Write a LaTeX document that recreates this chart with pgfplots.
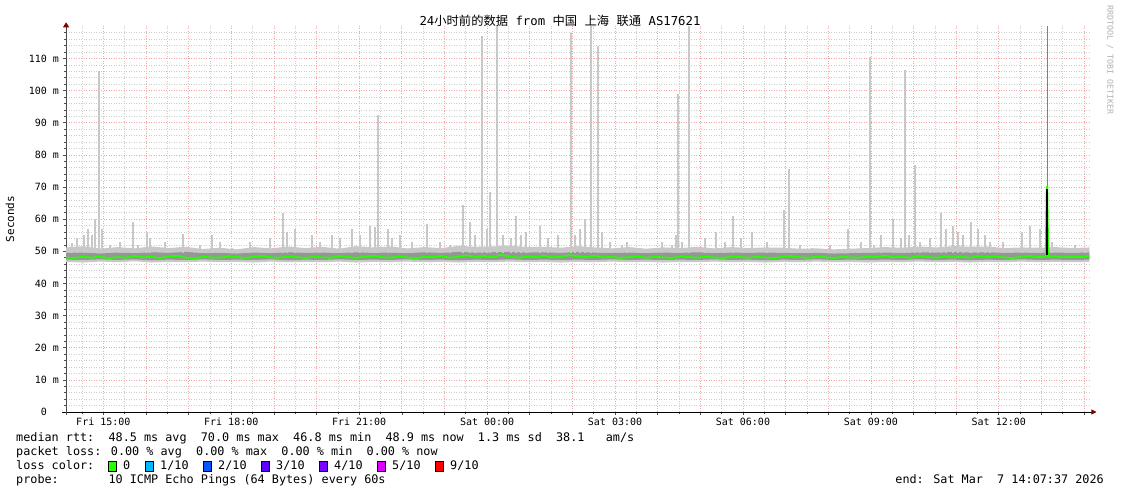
\documentclass[border=0pt]{standalone}
\usepackage{fontspec}
\setmainfont{DejaVu Sans Mono}
\newfontfamily\cjk{Noto Sans CJK SC}
\usepackage{pgfplots}
\pgfplotsset{compat=1.18}
\usepackage{pgfplotstable}
\usepgfplotslibrary{fillbetween}
\usetikzlibrary{arrows.meta}

\definecolor{mgrid}{RGB}{245,165,165}
\definecolor{sgrid}{RGB}{205,205,205}
\definecolor{smokeL}{RGB}{200,200,200}
\definecolor{smokeD}{RGB}{150,150,150}
\definecolor{loss0}{RGB}{38,255,0}
\definecolor{loss1}{RGB}{0,184,255}
\definecolor{loss2}{RGB}{0,89,255}
\definecolor{loss3}{RGB}{94,0,255}
\definecolor{loss4}{RGB}{126,0,255}
\definecolor{loss5}{RGB}{221,0,255}
\definecolor{loss9}{RGB}{255,0,0}
\definecolor{arrowred}{RGB}{128,0,0}

% smoke envelopes (ms), time in hours (Fri 14:07:37 = 14.127)
\pgfplotstableread{
t lo dlo dhi hi
14.13 46.7 47.4 49.5 51.2
14.53 46.5 47.3 49.6 51.6
14.93 46.8 47.5 49.3 50.8
15.33 46.6 47.3 49.6 51.3
15.73 46.9 47.5 49.4 50.9
16.13 46.5 47.2 49.7 51.5
16.53 46.7 47.4 49.5 51.0
16.93 46.6 47.3 49.8 51.4
17.33 46.8 47.5 49.4 50.7
17.73 46.6 47.3 49.5 51.1
18.13 46.7 47.4 49.3 50.6
18.53 46.5 47.3 49.6 51.3
18.93 46.8 47.5 49.4 50.9
19.33 46.6 47.2 49.7 51.5
19.73 46.7 47.4 49.5 51.0
20.13 46.6 47.3 49.6 51.4
20.53 46.8 47.5 49.4 50.8
20.93 46.5 47.3 49.7 51.6
21.33 46.7 47.4 49.5 51.2
21.73 46.6 47.3 49.6 51.5
22.13 46.8 47.5 49.4 50.9
22.53 46.6 47.3 49.7 51.3
22.93 46.7 47.4 49.5 51.0
23.33 46.5 47.2 49.8 51.7
23.73 46.7 47.4 49.6 51.4
24.13 46.6 47.3 49.7 51.5
24.53 46.8 47.5 49.8 51.8
24.93 46.6 47.3 49.6 51.3
25.33 46.7 47.4 49.7 51.4
25.73 46.5 47.3 49.5 51.1
26.13 46.7 47.4 49.8 51.6
26.53 46.6 47.3 49.6 51.2
26.93 46.8 47.5 49.5 50.9
27.33 46.6 47.3 49.6 51.3
27.73 46.7 47.4 49.4 50.8
28.13 46.5 47.3 49.6 51.2
28.53 46.7 47.4 49.5 51.0
28.93 46.6 47.3 49.7 51.4
29.33 46.8 47.5 49.4 50.9
29.73 46.6 47.3 49.6 51.3
30.13 46.7 47.4 49.5 51.0
30.53 46.5 47.2 49.6 51.2
30.93 46.7 47.4 49.5 51.1
31.33 46.6 47.3 49.4 50.8
31.73 46.8 47.5 49.5 50.9
32.13 46.6 47.3 49.3 50.6
32.53 46.7 47.4 49.4 50.8
32.93 46.5 47.3 49.5 51.0
33.33 46.7 47.4 49.6 51.3
33.73 46.6 47.3 49.5 51.1
34.13 46.8 47.5 49.7 51.5
34.53 46.6 47.3 49.6 51.2
34.93 46.7 47.4 49.8 51.6
35.33 46.5 47.2 49.6 51.4
35.73 46.7 47.4 49.7 51.5
36.13 46.6 47.3 49.5 51.0
36.53 46.8 47.5 49.6 51.2
36.93 46.6 47.3 49.5 51.1
37.33 46.7 47.4 49.6 51.3
37.73 46.6 47.3 49.5 51.0
38.13 46.7 47.4 49.6 51.2
}\band

% median rtt (ms)
\pgfplotstableread{
t med
14.13 48.1
14.33 47.9
14.53 48.3
14.73 48.0
14.93 48.4
15.13 47.8
15.33 48.2
15.53 48.0
15.73 48.5
15.93 48.1
16.13 48.3
16.33 47.9
16.53 48.4
16.73 48.6
16.93 48.0
17.13 47.8
17.33 48.3
17.53 48.1
17.73 48.0
17.93 48.4
18.13 48.2
18.33 47.9
18.53 48.3
18.73 48.5
18.93 48.1
19.13 48.0
19.33 48.4
19.53 48.2
19.73 47.9
19.93 48.3
20.13 48.1
20.33 48.0
20.53 48.5
20.73 48.2
20.93 47.9
21.13 48.3
21.33 48.6
21.53 48.2
21.73 48.0
21.93 48.4
22.13 48.1
22.33 47.8
22.53 48.3
22.73 48.2
22.93 48.5
23.13 48.0
23.33 48.3
23.53 48.7
23.73 48.2
23.93 48.5
24.13 48.1
24.33 48.9
24.53 48.3
24.73 48.0
24.93 48.4
25.13 48.2
25.33 48.6
25.53 48.1
25.73 48.3
25.93 48.8
26.13 48.4
26.33 48.2
26.53 48.6
26.73 48.1
26.93 48.3
27.13 47.9
27.33 48.2
27.53 48.4
27.73 48.0
27.93 48.3
28.13 48.1
28.33 47.9
28.53 48.4
28.73 48.2
28.93 48.0
29.13 48.3
29.33 48.1
29.53 47.9
29.73 48.4
29.93 48.2
30.13 48.0
30.33 48.3
30.53 48.1
30.73 47.9
30.93 48.3
31.13 48.5
31.33 48.1
31.53 48.0
31.73 48.3
31.93 48.2
32.13 47.9
32.33 48.3
32.53 48.1
32.73 48.0
32.93 48.4
33.13 48.2
33.33 48.6
33.53 48.1
33.73 48.3
33.93 48.0
34.13 48.5
34.33 48.2
34.53 48.0
34.73 48.4
34.93 48.1
35.13 48.3
35.33 48.0
35.53 48.5
35.73 48.2
35.93 48.4
36.13 48.1
36.33 47.9
36.53 48.3
36.73 48.5
36.93 48.2
37.10 48.3
37.125 70.0
37.137 70.0
37.16 48.4
37.33 48.4
37.53 48.1
37.73 48.3
37.93 48.2
38.13 48.6
}\median

\begin{document}
\begin{tikzpicture}[x=1pt,y=1pt]
\begin{axis}[
  at={(66.1pt,82pt)}, anchor=south west,
  scale only axis, width=1023.4pt, height=385.7pt,
  xmin=14.127, xmax=38.127, ymin=0, ymax=120,
  xtick={15,16,...,38},
  xticklabels={Fri 15:00,,,Fri 18:00,,,Fri 21:00,,,Sat 00:00,,,Sat 03:00,,,Sat 06:00,,,Sat 09:00,,,Sat 12:00,,,},
  minor xtick={14.5,15.5,...,37.5},
  ytick={0,10,...,110},
  yticklabels={0\phantom{ m},10 m,20 m,30 m,40 m,50 m,60 m,70 m,80 m,90 m,100 m,110 m},
  minor ytick={2,4,...,118},
  grid=both,
  major grid style={mgrid, line width=0.65pt, dash pattern=on 1pt off 1.5pt},
  minor grid style={sgrid, line width=0.65pt, dash pattern=on 1pt off 1.5pt},
  axis x line=bottom, axis y line=left,
  x axis line style={black, line width=0.9pt, shorten >=-7pt, shorten <=-4pt, -{Triangle[length=5pt,width=5pt,color=arrowred]}},
  y axis line style={black!70, line width=0.9pt, shorten >=-4pt, shorten <=-3pt, -{Triangle[length=5pt,width=6pt,color=arrowred]}},
  tick align=outside,
  major tick length=3pt, minor tick length=2pt,
  tick style={black!70, line width=0.6pt},
  /pgf/number format/assume math mode=true,
  tick label style={font=\fontsize{10}{12}\selectfont, inner sep=0pt},
  yticklabel style={xshift=-4pt},
  xticklabel style={yshift=-3pt},
  clip=true,
]
% light smoke
\addplot[name path=hi, draw=none, forget plot] table[x=t,y=hi]{\band};
\addplot[name path=lo, draw=none, forget plot] table[x=t,y=lo]{\band};
\addplot[smokeL, forget plot] fill between[of=hi and lo];
% spikes (max pings)
\addplot[smokeL, line width=1.4pt, unbounded coords=jump, forget plot] coordinates {
(14.265,49.5)(14.265,52.5)(14.265,nan)
(14.383,49.5)(14.383,54)(14.383,nan)
(14.547,49.5)(14.547,55)(14.547,nan)
(14.641,49.5)(14.641,57)(14.641,nan)
(14.734,49.5)(14.734,55)(14.734,nan)
(14.805,49.5)(14.805,60)(14.805,nan)
(14.969,49.5)(14.969,57)(14.969,nan)
(15.157,49.5)(15.157,52)(15.157,nan)
(15.391,49.5)(15.391,53)(15.391,nan)
(15.696,49.5)(15.696,59)(15.696,nan)
(15.813,49.5)(15.813,52)(15.813,nan)
(16.024,49.5)(16.024,56)(16.024,nan)
(16.095,49.5)(16.095,54)(16.095,nan)
(16.446,49.5)(16.446,53)(16.446,nan)
(16.869,49.5)(16.869,55.5)(16.869,nan)
(17.267,49.5)(17.267,52)(17.267,nan)
(17.549,49.5)(17.549,55)(17.549,nan)
(17.736,49.5)(17.736,53)(17.736,nan)
(18.018,49.5)(18.018,51)(18.018,nan)
(18.440,49.5)(18.440,53)(18.440,nan)
(18.909,49.5)(18.909,54)(18.909,nan)
(19.214,49.5)(19.214,62)(19.214,nan)
(19.308,49.5)(19.308,56)(19.308,nan)
(19.495,49.5)(19.495,57)(19.495,nan)
(19.894,49.5)(19.894,55)(19.894,nan)
(20.081,49.5)(20.081,53)(20.081,nan)
(20.363,49.5)(20.363,55)(20.363,nan)
(20.551,49.5)(20.551,54)(20.551,nan)
(20.832,49.5)(20.832,57)(20.832,nan)
(21.020,49.5)(21.020,55)(21.020,nan)
(21.254,49.5)(21.254,58)(21.254,nan)
(21.371,49.5)(21.371,57.5)(21.371,nan)
(21.676,49.5)(21.676,57)(21.676,nan)
(21.770,49.5)(21.770,54)(21.770,nan)
(21.958,49.5)(21.958,55)(21.958,nan)
(22.239,49.5)(22.239,53)(22.239,nan)
(22.591,49.5)(22.591,58.5)(22.591,nan)
(22.896,49.5)(22.896,53)(22.896,nan)
(23.130,49.5)(23.130,52)(23.130,nan)
(23.435,49.5)(23.435,64.5)(23.435,nan)
(23.599,49.5)(23.599,59)(23.599,nan)
(23.717,49.5)(23.717,55)(23.717,nan)
(23.998,49.5)(23.998,57)(23.998,nan)
(24.068,49.5)(24.068,68.5)(24.068,nan)
(24.373,49.5)(24.373,55)(24.373,nan)
(24.561,49.5)(24.561,54)(24.561,nan)
(24.678,49.5)(24.678,61)(24.678,nan)
(24.795,49.5)(24.795,55)(24.795,nan)
(24.913,49.5)(24.913,56)(24.913,nan)
(25.241,49.5)(25.241,58)(25.241,nan)
(25.429,49.5)(25.429,54)(25.429,nan)
(25.663,49.5)(25.663,55)(25.663,nan)
(26.062,49.5)(26.062,55)(26.062,nan)
(26.179,49.5)(26.179,57)(26.179,nan)
(26.296,49.5)(26.296,60)(26.296,nan)
(26.695,49.5)(26.695,56)(26.695,nan)
(26.883,49.5)(26.883,53)(26.883,nan)
(27.164,49.5)(27.164,52)(27.164,nan)
(27.281,49.5)(27.281,53)(27.281,nan)
(27.586,49.5)(27.586,51)(27.586,nan)
(28.102,49.5)(28.102,53)(28.102,nan)
(28.337,49.5)(28.337,52)(28.337,nan)
(28.430,49.5)(28.430,55)(28.430,nan)
(28.571,49.5)(28.571,53)(28.571,nan)
(29.111,49.5)(29.111,54)(29.111,nan)
(29.369,49.5)(29.369,56)(29.369,nan)
(29.580,49.5)(29.580,53)(29.580,nan)
(29.767,49.5)(29.767,61)(29.767,nan)
(29.955,49.5)(29.955,54)(29.955,nan)
(30.213,49.5)(30.213,56)(30.213,nan)
(30.565,49.5)(30.565,53)(30.565,nan)
(30.963,49.5)(30.963,63)(30.963,nan)
(31.339,49.5)(31.339,52)(31.339,nan)
(31.620,49.5)(31.620,51)(31.620,nan)
(32.042,49.5)(32.042,52)(32.042,nan)
(32.464,49.5)(32.464,57)(32.464,nan)
(32.769,49.5)(32.769,53)(32.769,nan)
(33.074,49.5)(33.074,52)(33.074,nan)
(33.238,49.5)(33.238,55)(33.238,nan)
(33.520,49.5)(33.520,60)(33.520,nan)
(33.707,49.5)(33.707,54)(33.707,nan)
(33.895,49.5)(33.895,55)(33.895,nan)
(34.153,49.5)(34.153,53)(34.153,nan)
(34.387,49.5)(34.387,54)(34.387,nan)
(34.645,49.5)(34.645,62)(34.645,nan)
(34.762,49.5)(34.762,57)(34.762,nan)
(34.927,49.5)(34.927,58)(34.927,nan)
(35.044,49.5)(35.044,56)(35.044,nan)
(35.161,49.5)(35.161,55)(35.161,nan)
(35.349,49.5)(35.349,59)(35.349,nan)
(35.513,49.5)(35.513,57)(35.513,nan)
(35.677,49.5)(35.677,55)(35.677,nan)
(35.794,49.5)(35.794,53)(35.794,nan)
(36.099,49.5)(36.099,53)(36.099,nan)
(36.310,49.5)(36.310,51)(36.310,nan)
(36.545,49.5)(36.545,56)(36.545,nan)
(36.733,49.5)(36.733,58)(36.733,nan)
(36.967,49.5)(36.967,57)(36.967,nan)
(37.249,49.5)(37.249,53)(37.249,nan)
(37.553,49.5)(37.553,51)(37.553,nan)
(37.787,49.5)(37.787,52)(37.787,nan)
(38.022,49.5)(38.022,51)(38.022,nan)
};
% tall spikes
\addplot[smokeL, line width=2pt, unbounded coords=jump, forget plot] coordinates {
(14.899,49.5)(14.899,106)(14.899,nan)
(21.442,49.5)(21.442,92.5)(21.442,nan)
(24.232,49.5)(24.232,120)(24.232,nan)
(25.968,49.5)(25.968,118)(25.968,nan)
(26.437,49.5)(26.437,120)(26.437,nan)
(26.601,49.5)(26.601,114)(26.601,nan)
(28.735,49.5)(28.735,120)(28.735,nan)
(33.801,49.5)(33.801,106.3)(33.801,nan)
(34.036,49.5)(34.036,77)(34.036,nan)
};
\addplot[smokeL, line width=1.1pt, unbounded coords=jump, forget plot] coordinates {
(23.881,49.5)(23.881,117)(23.881,nan)
(28.477,49.5)(28.477,99)(28.477,nan)
(32.980,49.5)(32.980,110.5)(32.980,nan)
(31.080,49.5)(31.080,75.5)(31.080,nan)
};
% dark smoke
\addplot[name path=dhi, draw=none, forget plot] table[x=t,y=dhi]{\band};
\addplot[name path=dlo, draw=none, forget plot] table[x=t,y=dlo]{\band};
\addplot[smokeD, forget plot] fill between[of=dhi and dlo];
% median rtt, loss 0
\addplot[loss0, line width=1.8pt, forget plot] table[x=t,y=med]{\median};
% the 70 ms sample and its smoke
\addplot[black, line width=2.2pt, forget plot] coordinates {(37.131,48.9) (37.131,69.5)};
\addplot[black!50, line width=0.9pt, forget plot] coordinates {(37.131,70.3) (37.131,120)};
\end{axis}

% title and labels
\node[font=\fontsize{12.3}{14}\selectfont] at (560,473) {24{\cjk 小时前的数据} from {\cjk 中国} {\cjk 上海} {\cjk 联通} AS17621};
\node[rotate=90, font=\fontsize{11}{13}\selectfont] at (10,275) {Seconds};
\node[rotate=-90, font=\fontsize{8.3}{10}\selectfont, text=black!30] at (1110,434) {RRDTOOL / TOBI OETIKER};

% legend lines
\begin{scope}[every node/.style={font=\fontsize{11.8}{14}\selectfont, inner sep=0pt}]
\node[anchor=base west] at (16,52) {median rtt:\ \ 48.5 ms avg\ \ 70.0 ms max\ \ 46.8 ms min\ \ 48.9 ms now\ \ 1.3 ms sd\ \ 38.1\ \ \ am/s};
\node[anchor=base west] at (16,38) {packet loss: 0.00 \% avg\ \ 0.00 \% max\ \ 0.00 \% min\ \ 0.00 \% now};
\node[anchor=base west] at (16,24) {loss color:};
\foreach \c/\xx/\lab in {loss0/108/0, loss1/145/1\slash 10, loss2/203/2\slash 10, loss3/261/3\slash 10, loss4/319/4\slash 10, loss5/377/5\slash 10, loss9/435/9\slash 10}{
  \filldraw[fill=\c, draw=black, line width=0.8pt] (\xx,23) rectangle ++(8.5,9.5);
  \node[anchor=base west] at (\xx+15,24) {\lab};
}
\node[anchor=base west] at (16,10) {probe:\ \ \ \ \ \ \ 10 ICMP Echo Pings (64 Bytes) every 60s};
\node[anchor=base east] at (1104,10) {end: Sat Mar\ \ 7 14:07:37 2026};
\end{scope}
\pgfresetboundingbox
\useasboundingbox (0,0) rectangle (1121,494);
\end{tikzpicture}
\end{document}
